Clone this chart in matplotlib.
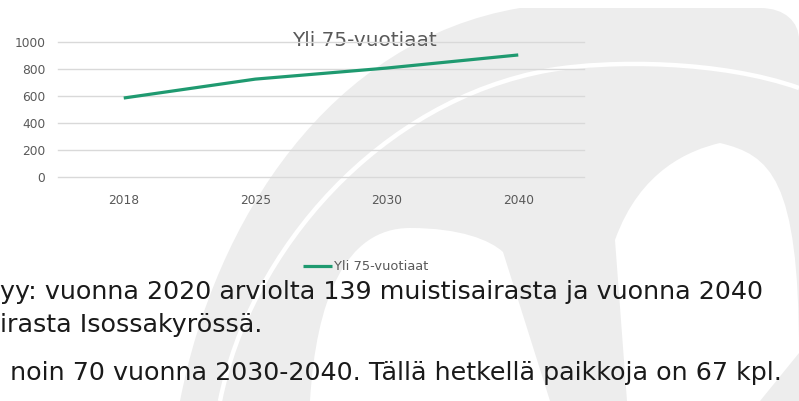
import matplotlib
matplotlib.use("Agg")
import matplotlib.pyplot as plt
from matplotlib.path import Path
from matplotlib.patches import PathPatch

# ---- data ----
categories = ["2018", "2025", "2030", "2040"]
values = [585, 725, 807, 904]
series_name = "Yli 75-vuotiaat"
yticks = [0, 200, 400, 600, 800, 1000]
body_lines = [
    "yy: vuonna 2020 arviolta 139 muistisairasta ja vuonna 2040",
    "irasta Isossakyrössä.",
    " noin 70 vuonna 2030-2040. Tällä hetkellä paikkoja on 67 kpl.",
]

W, H = 799, 401
FONT = ["DejaVu Sans"]
plt.rcParams["font.family"] = FONT

fig = plt.figure(figsize=(W / 100, H / 100), dpi=100)
fig.patch.set_facecolor("white")

# ---- background decoration (pixel coords, y down) ----
bg = fig.add_axes([0, 0, 1, 1], zorder=0)
bg.set_xlim(0, W)
bg.set_ylim(H, 0)
bg.axis("off")
GRAY = "#ededed"

M, L, C = Path.MOVETO, Path.LINETO, Path.CURVE4
gray_verts = [(180, 401), (215, 220), (330, 40), (520, 8), (760, 8),
              (785, 8), (799, 22), (799, 40), (799, 401), (180, 401)]
gray_codes = [M, C, C, C, L, C, C, C, L, Path.CLOSEPOLY]
bg.add_patch(PathPatch(Path(gray_verts, gray_codes), fc=GRAY, ec="none"))

blob1 = [(310, 401), (316, 300), (345, 228), (410, 228), (460, 228),
         (490, 240), (503, 252), (550, 401), (310, 401)]
blob1_codes = [M, C, C, C, C, C, C, L, Path.CLOSEPOLY]
bg.add_patch(PathPatch(Path(blob1, blob1_codes), fc="white", ec="none"))

blob2 = [(627, 401), (615, 240), (640, 170), (690, 150), (720, 143),
         (770, 155), (799, 178), (799, 353), (760, 401), (627, 401)]
blob2_codes = [M, L, C, C, C, C, C, L, L, Path.CLOSEPOLY]
bg.add_patch(PathPatch(Path(blob2, blob2_codes), fc="white", ec="none"))

stripe = [(220, 401), (250, 250), (380, 100), (550, 70), (610, 60), (720, 60), (799, 88)]
stripe_codes = [M, C, C, C, C, C, C]
bg.add_patch(PathPatch(Path(stripe, stripe_codes), fc="none", ec="white", lw=3.2))

# ---- chart ----
ax = fig.add_axes([58 / W, 1 - 177 / H, (584 - 58) / W, (177 - 42) / H], zorder=2)
ax.patch.set_alpha(0)
x = list(range(len(categories)))
line, = ax.plot(x, values, color="#1f9a70", lw=2.3, solid_capstyle="butt", label=series_name)
ax.set_xlim(-0.5, len(categories) - 0.5)
ax.set_ylim(0, 1000)
ax.set_yticks(yticks)
ax.set_yticklabels([str(t) for t in yticks])
ax.set_xticks(x)
ax.set_xticklabels(categories)
for s in ax.spines.values():
    s.set_visible(False)
ax.tick_params(axis="both", length=0, colors="#595959", labelsize=8.8)
ax.tick_params(axis="y", pad=9)
ax.tick_params(axis="x", pad=12)
ax.grid(axis="y", color="#d9d9d9", lw=1)
ax.grid(axis="x", visible=False)
ax.set_axisbelow(True)
for gl in ax.get_ygridlines():
    gl.set_clip_on(False)

bg.text(364, 41, series_name, ha="center", va="center", fontsize=14.4, color="#595959")

fig.legend(handles=[line], labels=[series_name], loc="center",
           bbox_to_anchor=(366 / W, 1 - 267 / H), frameon=False,
           fontsize=9.4, handlelength=2.2, handletextpad=0.15,
           labelcolor="#595959")

# ---- body text ----
BODY_FS = 18.3
bg.text(0, 299, body_lines[0], ha="left", va="baseline", fontsize=BODY_FS, color="#1a1a1a")
bg.text(0, 332, body_lines[1], ha="left", va="baseline", fontsize=BODY_FS, color="#1a1a1a")
bg.text(2, 380, body_lines[2], ha="left", va="baseline", fontsize=BODY_FS, color="#1a1a1a")

fig.savefig("out.png", dpi=100)
